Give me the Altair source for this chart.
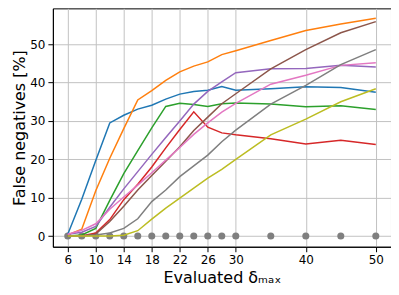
import altair as alt
import pandas as pd

xs = [6, 8, 10, 12, 14, 16, 18, 20, 22, 24, 26, 28, 30, 35, 40, 45, 50]

blue = [0.5, 9.6, 19.7, 29.5, 31.5, 33.1, 34.1, 35.7, 37.0, 37.7, 38.0, 39.0, 38.0, 38.4, 38.9, 38.7, 37.5]
orange = [0.3, 1.8, 11.8, 20.3, 28.0, 35.5, 37.9, 40.6, 42.8, 44.3, 45.4, 47.3, 48.3, 51.0, 53.6, 55.3, 56.8]
green = [0.0, 0.3, 2.0, 9.3, 16.3, 22.3, 28.2, 33.8, 34.6, 34.3, 33.8, 34.5, 34.7, 34.4, 33.7, 34.0, 33.0]
red = [0.0, 0.0, 0.8, 4.3, 9.5, 13.5, 18.0, 23.0, 27.8, 32.4, 28.4, 26.9, 26.4, 25.4, 24.0, 25.0, 23.9]
purple = [0.5, 1.0, 2.5, 7.5, 12.3, 16.8, 21.3, 25.7, 30.0, 34.4, 37.7, 40.2, 42.6, 43.6, 43.7, 44.5, 44.1]
brown = [0.0, 0.0, 0.5, 3.8, 7.8, 12.0, 15.8, 19.5, 23.3, 27.5, 31.0, 34.5, 37.1, 43.6, 48.6, 53.0, 55.9]
pink = [0.5, 1.5, 3.2, 7.0, 10.2, 13.3, 16.5, 19.8, 23.1, 26.5, 29.5, 32.3, 34.6, 39.6, 41.9, 44.5, 45.2]
grey = [0.0, 0.0, 0.3, 0.8, 2.0, 4.5, 9.0, 12.0, 15.5, 18.3, 21.1, 24.6, 27.6, 34.4, 39.3, 44.7, 48.6]
olive = [0.0, 0.0, 0.0, 0.0, 0.2, 1.4, 4.4, 7.3, 9.9, 12.5, 15.1, 17.4, 20.0, 26.4, 30.5, 35.0, 38.4]
zeros = [0] * len(xs)

series_names = ["s1", "s2", "s3", "s4", "s5", "s6", "s7", "s8", "s9"]
series_values = [blue, orange, green, red, purple, brown, pink, grey, olive]
colors = ["#1f77b4", "#ff7f0e", "#2ca02c", "#d62728", "#9467bd",
          "#8c564b", "#e377c2", "#7f7f7f", "#bcbd22"]

x_tick_values = xs
x_labelled = [6, 10, 14, 18, 22, 26, 30, 40, 50]
y_tick_values = [0, 10, 20, 30, 40, 50]

rows = []
for i, (name, vals) in enumerate(zip(series_names, series_values)):
    for x, v in zip(xs, vals):
        rows.append({"series": name, "order": i, "x": x, "y": v})
df = pd.DataFrame(rows)
pts = pd.DataFrame({"x": xs, "y": zeros})

xscale = alt.Scale(domain=[3.876, 52.17], nice=False, zero=False)
yscale = alt.Scale(domain=[-2.78, 59.36], nice=False, zero=False)

label_list = ",".join(str(v) for v in x_labelled)
xaxis = alt.Axis(values=x_tick_values, title="Evaluated δₘₐₓ",
                 labelExpr=f"indexof([{label_list}], datum.value) >= 0 ? datum.label : ''",
                 labelFlush=False, labelOverlap=False, titlePadding=4)
yaxis = alt.Axis(values=y_tick_values, title="False negatives [%]", titlePadding=2)

points = alt.Chart(pts).mark_circle(size=50, color="#7f7f7f", opacity=1).encode(
    x=alt.X("x:Q", scale=xscale, axis=xaxis),
    y=alt.Y("y:Q", scale=yscale, axis=yaxis),
)

lines = alt.Chart(df).mark_line(strokeWidth=1.5).encode(
    x=alt.X("x:Q", scale=xscale),
    y=alt.Y("y:Q", scale=yscale),
    color=alt.Color("series:N", scale=alt.Scale(domain=series_names, range=colors), legend=None),
    order=alt.Order("x:Q"),
)

chart = alt.layer(points, lines).properties(
    width=339, height=239,
    autosize=alt.AutoSizeParams(type="none"),
    padding={"left": 45, "top": 0, "right": 0, "bottom": 40},
).configure(font="DejaVu Sans").configure_view(
    stroke="black", strokeWidth=1
).configure_axis(
    domainColor="black", tickColor="black", labelColor="black", titleColor="black",
    gridColor="#c2c2c2", gridWidth=1, tickSize=5, labelPadding=3,
    labelFontSize=12, titleFontSize=16, titleFontWeight="normal", labelFont="DejaVu Sans",
    titleFont="DejaVu Sans",
)

chart.save("out.html", embed_options={"renderer": "svg", "actions": False})
